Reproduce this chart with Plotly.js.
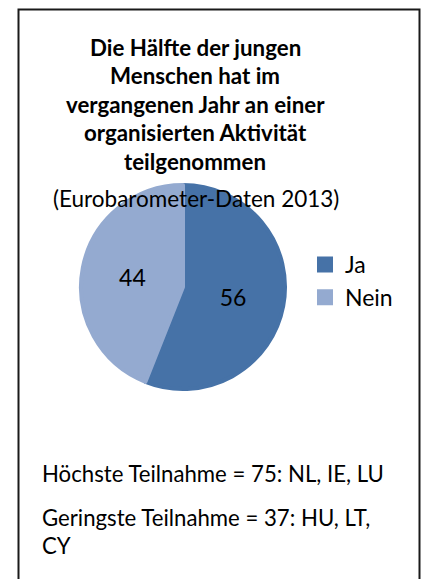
<!DOCTYPE html>
<html>
<head>
<meta charset="utf-8">
<script src="https://cdn.plot.ly/plotly-3.0.1.min.js"></script>
<style>
html,body{margin:0;padding:0;background:#fff;}
#chart{width:425px;height:579px;}
</style>
</head>
<body>
<div id="chart"></div>
<script>
// Data
const categories = ["Ja", "Nein"];
const values = [56, 44];
const sliceColors = ["#4672A7", "#94AAD0"];
const titleLines = [
  "Die Hälfte der jungen",
  "Menschen hat im",
  "vergangenen Jahr an einer",
  "organisierten Aktivität",
  "teilgenommen"
];
const subtitle = "(Eurobarometer-Daten 2013)";
const noteLines = [
  "Höchste Teilnahme = 75: NL, IE, LU",
  "Geringste Teilnahme = 37: HU, LT,",
  "CY"
];

const W = 425, H = 579;
const FONT = "Lato, 'Open Sans', sans-serif";
const px = x => x / W;
const py = y => 1 - y / H;

const annotations = [];
const titleY = [48, 76, 104, 132, 161];
titleLines.forEach((t, i) => {
  annotations.push({
    text: "<b>" + t + "</b>", xref: "paper", yref: "paper",
    x: px(195), y: py(titleY[i]), xanchor: "center", yanchor: "middle",
    showarrow: false, font: {family: FONT, size: 22.3, color: "#000"}
  });
});
annotations.push({
  text: subtitle, xref: "paper", yref: "paper",
  x: px(196), y: py(199), xanchor: "center", yanchor: "middle",
  showarrow: false, font: {family: FONT, size: 22.5, color: "#000"}
});
const noteY = [473, 517, 545];
noteLines.forEach((t, i) => {
  annotations.push({
    text: t, xref: "paper", yref: "paper",
    x: px(40), y: py(noteY[i]), xanchor: "left", yanchor: "middle",
    showarrow: false, font: {family: FONT, size: 22.2, color: "#000"}
  });
});

const trace = {
  type: "pie",
  labels: categories,
  values: values,
  marker: {colors: sliceColors, line: {width: 4, color: sliceColors}},
  sort: false,
  direction: "clockwise",
  rotation: 0,
  textinfo: "value",
  textposition: "inside",
  insidetextorientation: "horizontal",
  textfont: {family: FONT, size: 23, color: "#000"},
  hoverinfo: "label+value",
  domain: {x: [px(81), px(285)], y: [py(389), py(185)]}
};

const layout = {
  width: W, height: H,
  margin: {l: 0, r: 0, t: 0, b: 0},
  paper_bgcolor: "#fff",
  showlegend: true,
  legend: {
    x: px(305), y: py(243), xanchor: "left", yanchor: "top",
    font: {family: FONT, size: 23, color: "#000"},
    bgcolor: "rgba(0,0,0,0)"
  },
  annotations: annotations,
  shapes: [{
    type: "rect", xref: "paper", yref: "paper",
    x0: px(18.5), x1: px(419.5), y0: py(600), y1: py(9.5),
    line: {color: "#1a1a1a", width: 2}, fillcolor: "rgba(0,0,0,0)", layer: "below"
  }]
};

Plotly.newPlot("chart", [trace], layout, {displayModeBar: false, staticPlot: true});
</script>
</body>
</html>
